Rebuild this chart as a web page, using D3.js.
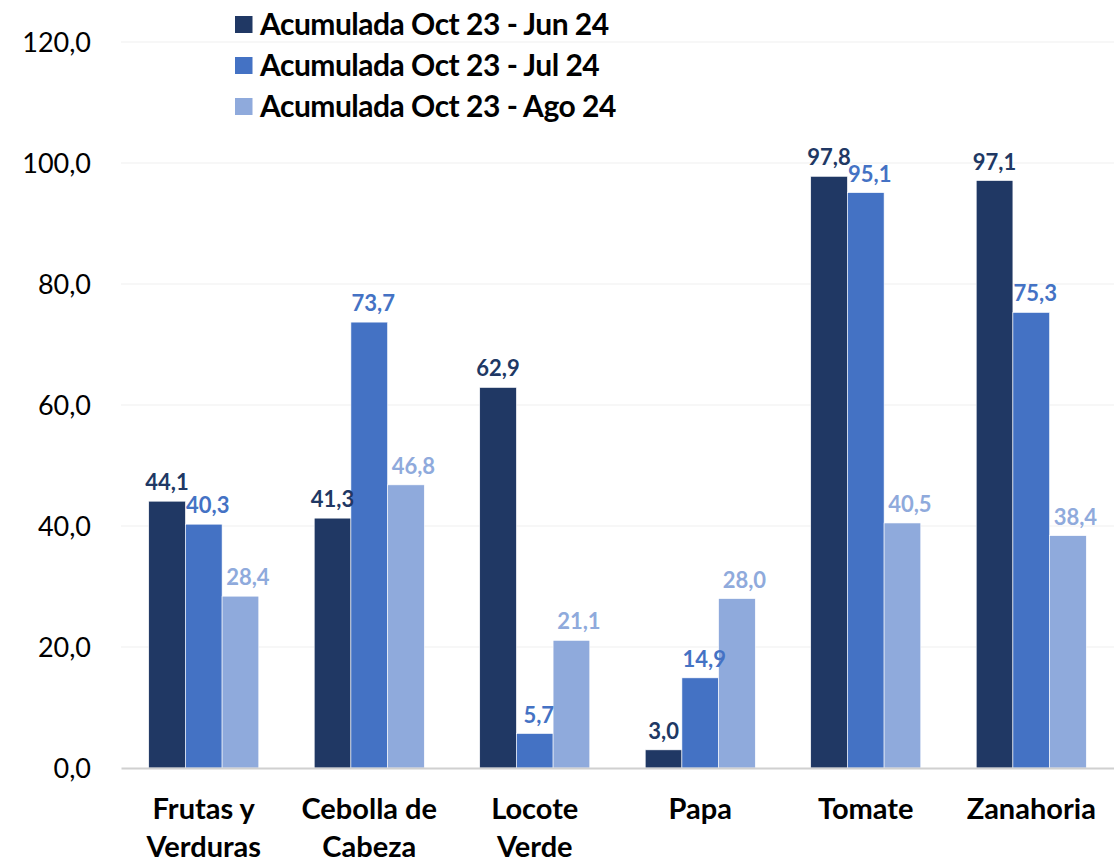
<!DOCTYPE html>
<html><head><meta charset="utf-8">
<script src="https://cdn.jsdelivr.net/npm/d3@7"></script>
<style>
html,body{margin:0;padding:0;background:#fff;}
svg{display:block;}
</style></head>
<body>
<svg id="chart" width="1114" height="865"></svg>
<script>
const categories = [["Frutas y","Verduras"],["Cebolla de","Cabeza"],["Locote","Verde"],["Papa"],["Tomate"],["Zanahoria"]];
const seriesNames = ["Acumulada Oct 23 - Jun 24","Acumulada Oct 23 - Jul 24","Acumulada Oct 23 - Ago 24"];
const jun24 = [44.1, 41.3, 62.9, 3.0, 97.8, 97.1];
const jul24 = [40.3, 73.7, 5.7, 14.9, 95.1, 75.3];
const ago24 = [28.4, 46.8, 21.1, 28.0, 40.5, 38.4];
const yTicks = [0, 20, 40, 60, 80, 100, 120];
const colors = ["#203864", "#4472C4", "#8FAADC"];

const series = [jun24, jul24, ago24];
const labelShift = [0, 4, 7.5]; // horizontal label offset per series (style)
const svg = d3.select("#chart");
const pLeft = 121, pRight = 1114, pTop = 42, pBottom = 768;
const catKeys = categories.map(c => c.join(" "));

const x0 = d3.scaleBand().domain(catKeys).range([pLeft, pRight]).paddingInner(0.335).paddingOuter(0.1675);
const x1 = d3.scaleBand().domain([0,1,2]).range([0, x0.bandwidth()]);
const y = d3.scaleLinear().domain([0, 120]).range([pBottom, pTop]);
const fmt = v => d3.format(".1f")(v).replace(".", ",");

// gridlines
svg.append("g").selectAll("line").data(yTicks.filter(t => t > 0)).join("line")
  .attr("x1", pLeft).attr("x2", pRight)
  .attr("y1", d => y(d)).attr("y2", d => y(d))
  .attr("stroke", "#efefef").attr("stroke-width", 1.2);

// y axis labels
const yAxis = d3.axisLeft(y).tickValues(yTicks).tickFormat(fmt).tickSize(0).tickPadding(0);
const gy = svg.append("g").attr("transform", `translate(91,0)`).call(yAxis);
gy.select(".domain").remove();
gy.selectAll("text").attr("font-family", "Lato, 'Open Sans', sans-serif")
  .attr("font-size", 27).attr("fill", "#000").attr("dy", "0.36em");

// bars
const groups = svg.append("g").selectAll("g").data(catKeys).join("g")
  .attr("transform", d => `translate(${x0(d)},0)`);
groups.selectAll("rect").data((d, i) => series.map((s, k) => ({k, v: s[i]}))).join("rect")
  .attr("x", d => x1(d.k)).attr("width", x1.bandwidth())
  .attr("y", d => y(d.v)).attr("height", d => y(0) - y(d.v))
  .attr("fill", d => colors[d.k]).attr("stroke", "#ffffff").attr("stroke-width", 0.6);

// value labels
groups.selectAll("text").data((d, i) => series.map((s, k) => ({k, v: s[i]}))).join("text")
  .attr("x", d => x1(d.k) + x1.bandwidth() / 2 + labelShift[d.k])
  .attr("y", d => y(d.v) - 11)
  .attr("text-anchor", "middle")
  .attr("font-family", "Lato, sans-serif").attr("font-weight", 700).attr("font-size", 22)
  .attr("fill", d => colors[d.k])
  .text(d => fmt(d.v));

// baseline axis
const xAxis = d3.axisBottom(x0).tickSize(0).tickFormat("");
const gx = svg.append("g").attr("transform", `translate(0,${pBottom})`).call(xAxis);
gx.select(".domain").attr("stroke", "#d0d0d0").attr("stroke-width", 2);

// category labels
const cl = svg.append("g").selectAll("text").data(categories).join("text")
  .attr("x", (d, i) => x0(catKeys[i]) + x0.bandwidth() / 2)
  .attr("y", 819)
  .attr("text-anchor", "middle")
  .attr("font-family", "Lato, sans-serif").attr("font-weight", 700).attr("font-size", 29)
  .attr("letter-spacing", 0).attr("fill", "#000");
cl.selectAll("tspan").data(d => d).join("tspan")
  .attr("x", function() { return this.parentNode.getAttribute("x"); })
  .attr("dy", (d, j) => j === 0 ? 0 : 38)
  .text(d => d);

// legend
const leg = svg.append("g").selectAll("g").data(seriesNames).join("g")
  .attr("transform", (d, i) => `translate(235,${24.5 + i * 41})`);
leg.append("rect").attr("x", 0).attr("y", -8.5).attr("width", 17.5).attr("height", 17)
  .attr("fill", (d, i) => colors[i]);
leg.append("text").attr("x", 25).attr("y", 0).attr("dy", "0.36em")
  .attr("font-family", "Lato, sans-serif").attr("font-weight", 700).attr("font-size", 30)
  .attr("letter-spacing", -0.5).attr("fill", "#000")
  .text(d => d);
</script>
</body></html>
